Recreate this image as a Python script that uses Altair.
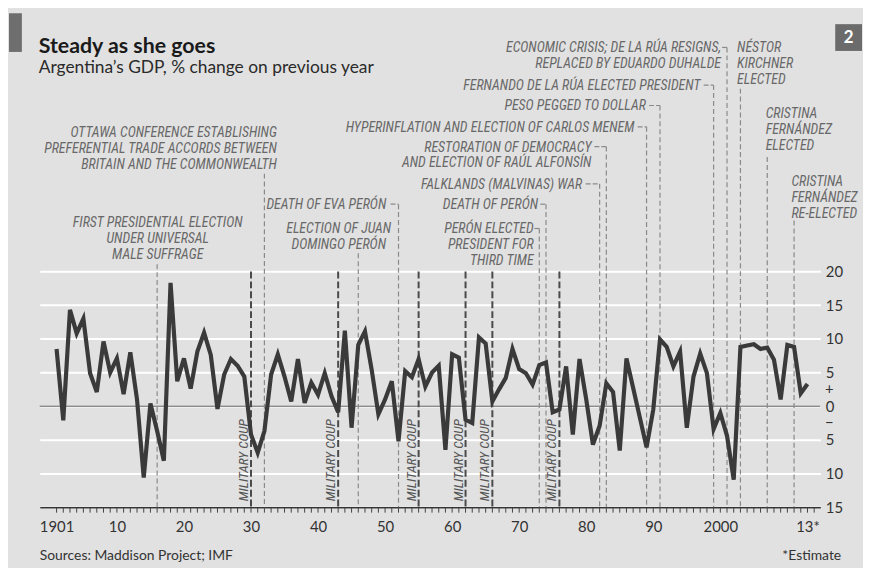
import altair as alt
import pandas as pd

# ---------------- data ----------------
years = list(range(1901, 2014))
gdp_change = [
    8.5, -2.1, 14.3, 10.8, 13.0, 4.9, 2.1, 9.6, 5.0, 7.1,      # 1901-1910
    1.8, 8.0, 1.0, -10.6, 0.4, -3.7, -8.1, 18.3, 3.7, 7.1,     # 1911-1920
    2.6, 8.1, 10.9, 7.6, -0.4, 4.7, 7.0, 6.0, 4.4, -4.2,       # 1921-1930
    -6.9, -3.7, 4.7, 7.7, 4.4, 0.7, 7.0, 0.5, 3.5, 1.7,        # 1931-1940
    4.9, 1.5, -0.9, 11.2, -3.2, 9.1, 11.1, 5.4, -1.2, 1.0,     # 1941-1950
    3.7, -5.2, 5.2, 4.3, 7.0, 2.9, 5.0, 6.0, -6.5, 7.7,        # 1951-1960
    7.2, -2.0, -2.5, 10.2, 9.3, 0.7, 2.5, 4.2, 8.5, 5.5,       # 1961-1970
    4.9, 3.2, 6.1, 6.5, -0.9, -0.5, 5.9, -4.2, 7.0, 1.0,       # 1971-1980
    -5.7, -2.9, 3.4, 2.1, -6.6, 7.1, 2.7, -1.7, -6.1, -0.5,    # 1981-1990
    9.9, 8.8, 5.9, 8.1, -3.2, 4.4, 7.8, 4.9, -3.4, -1.0,       # 1991-2000
    -4.4, -10.9, 8.8, 9.0, 9.2, 8.5, 8.7, 6.9, 1.0, 9.1,       # 2001-2010
    8.8, 1.9, 3.3,                                             # 2011-2013
]

tick_years = list(range(1901, 2015))
y_ticks = [-15, -10, -5, 0, 5, 10, 15, 20]

coup_years = [1930, 1943, 1955, 1962, 1966, 1976]
coup_text = "MILITARY COUP"

event_years = [1916, 1932, 1946, 1952, 1973, 1974, 1982, 1983,
               1989, 1991, 1999, 2001, 2003, 2007, 2011]
event_labels = [
    "FIRST PRESIDENTIAL ELECTION\nUNDER UNIVERSAL\nMALE SUFFRAGE",
    "OTTAWA CONFERENCE ESTABLISHING\nPREFERENTIAL TRADE ACCORDS BETWEEN\nBRITAIN AND THE COMMONWEALTH",
    "ELECTION OF JUAN\nDOMINGO PERÓN",
    "DEATH OF EVA PERÓN",
    "PERÓN ELECTED\nPRESIDENT FOR\nTHIRD TIME",
    "DEATH OF PERÓN",
    "FALKLANDS (MALVINAS) WAR",
    "RESTORATION OF DEMOCRACY\nAND ELECTION OF RAÚL ALFONSÍN",
    "HYPERINFLATION AND ELECTION OF CARLOS MENEM",
    "PESO PEGGED TO DOLLAR",
    "FERNANDO DE LA RÚA ELECTED PRESIDENT",
    "ECONOMIC CRISIS; DE LA RÚA RESIGNS,\nREPLACED BY EDUARDO DUHALDE",
    "NÉSTOR\nKIRCHNER\nELECTED",
    "CRISTINA\nFERNÁNDEZ\nELECTED",
    "CRISTINA\nFERNÁNDEZ\nRE-ELECTED",
]

title_text = "Steady as she goes"
subtitle_text = "Argentina’s GDP, % change on previous year"
source_text = "Sources: Maddison Project; IMF"
note_text = "*Estimate"
chart_number = "2"

# ---------------- layout (annotation placement) ----------------
PLOT_W, PLOT_H = 787, 469
X0, X1 = 1898.49, 2014.92
Y0, Y1 = -15.0, 54.07
PPY = PLOT_W / (X1 - X0)
PPU = PLOT_H / (Y1 - Y0)
TOP = 40  # page y of the plot's top edge


def ydata(page_y):
    return Y1 - (page_y - TOP) / PPU


def xdata(year, dx):
    return year + dx / PPY


# align, label dx (px), first baseline (page y), line top (page y), connector start (px, None)
event_layout = [
    ("center", 0.6, 227, 264, None),
    ("right", 12.6, 136, 172.7, None),
    ("center", -19.7, 232.5, 253, None),
    ("right", -12.3, 208.5, 203.5, -8),
    ("right", -5.7, 233, 228, -5),
    ("right", -8.0, 208.5, 203.5, -5.7),
    ("right", -17.6, 188, 183, -14),
    ("right", -15.0, 150.5, 145.5, -12),
    ("right", -12.3, 130.5, 125.5, -9),
    ("right", -14.3, 109, 104, -11),
    ("right", -13.3, 88.5, 83.5, -10),
    ("right", -6.0, 50.5, 45.5, -5),
    ("left", -3.4, 50.5, 87, None),
    ("left", -1.6, 117, 156, None),
    ("left", -2.7, 185, 220, None),
]

rows = []
for yr, lab, (al, dx, base, top, conn) in zip(event_years, event_labels, event_layout):
    rows.append({
        "year": yr, "label": lab, "align": al,
        "lx": xdata(yr, dx), "ly": ydata(base),
        "top": ydata(top), "bottom": Y0,
        "cx": xdata(yr, conn) if conn is not None else None,
    })
events = pd.DataFrame(rows)
gdp = pd.DataFrame({"year": years, "gdp": gdp_change})
coups = pd.DataFrame({"year": coup_years, "label": coup_text, "top": 20.0, "bottom": Y0})
ticks_df = pd.DataFrame({"year": tick_years})

BG = "#e1e1e1"
ANN_FONT = "Noto Sans Condensed, Liberation Sans Narrow, Roboto Condensed, Arial Narrow, Roboto"
MAIN_FONT = "Lato"
ANN_COLOR = "#686868"

xs = alt.Scale(domain=[X0, X1], nice=False, zero=False)
ys = alt.Scale(domain=[Y0, Y1], nice=False, zero=False)

label_expr = ("datum.value == 1901 ? '1901' : datum.value == 2000 ? '2000' : "
              "datum.value == 2013 ? '13*' : "
              "(datum.value < 2000 && datum.value % 10 == 0) ? "
              "substring(toString(datum.value), 2, 4) : ''")

x_axis = alt.Axis(values=tick_years, labelExpr=label_expr, title=None,
                  grid=False, ticks=False,
                  domainColor="#333333", domainWidth=1.5, labelFont=MAIN_FONT,
                  labelFontSize=15, labelColor="#333333", labelPadding=13,
                  labelOverlap=False, labelFlush=False, labelBound=False)
y_axis = alt.Axis(values=y_ticks, orient="right",
                  labelExpr="'' + abs(datum.value)", title=None, grid=True,
                  gridColor="white", gridWidth=2, domain=False, ticks=False,
                  labelPadding=5, labelFont=MAIN_FONT, labelFontSize=15,
                  labelColor="#333333", labelOverlap=False)


def X(field):
    return alt.X(field, scale=xs, axis=x_axis)


def Y(field):
    return alt.Y(field, scale=ys, axis=y_axis)


zero_rule = alt.Chart(pd.DataFrame({"v": [0]})).mark_rule(
    color="#8c8c8c", strokeWidth=1.5).encode(y=Y("v:Q"))

year_ticks = alt.Chart(ticks_df).mark_rule(color="#444444", strokeWidth=1).encode(
    x=X("year:Q"), y=alt.value(PLOT_H + 0.75), y2=alt.value(PLOT_H + 5.5))

event_lines = alt.Chart(events).mark_rule(
    color="#8a8a8a", strokeWidth=1.2, strokeDash=[5, 3]).encode(
    x=X("year:Q"), y=Y("top:Q"), y2="bottom:Q")

connectors = alt.Chart(events).transform_filter("isValid(datum.cx)").mark_rule(
    color="#8a8a8a", strokeWidth=1.2, strokeDash=[5, 2]).encode(
    x=X("cx:Q"), x2="year:Q", y=Y("top:Q"))

coup_lines = alt.Chart(coups).mark_rule(
    color="#4a4a4a", strokeWidth=2, strokeDash=[7, 3]).encode(
    x=X("year:Q"), y=Y("top:Q"), y2="bottom:Q")

coup_labels = alt.Chart(coups).mark_text(
    angle=270, align="left", baseline="bottom", dx=6, font=ANN_FONT,
    fontStyle="italic", fontSize=13.5, color="#555555").encode(
    x=X("year:Q"), y=Y("bottom:Q"), text="label:N")


def ann_layer(al):
    return alt.Chart(events).transform_filter(f"datum.align == '{al}'").mark_text(
        align=al, baseline="alphabetic", lineBreak="\n", lineHeight=16,
        font=ANN_FONT, fontStyle="italic", fontSize=14, color=ANN_COLOR).encode(
        x=X("lx:Q"), y=Y("ly:Q"), text="label:N")


gdp_line = alt.Chart(gdp).mark_line(color="#3a3a3a", strokeWidth=4.2).encode(
    x=X("year:Q"), y=Y("gdp:Q"))

sign_df = pd.DataFrame({"v": [2.5, -2.5], "s": ["+", "−"]})
signs = alt.Chart(sign_df).mark_text(
    font=MAIN_FONT, fontSize=15, color="#333333", align="center", baseline="middle").encode(
    x=alt.value(PLOT_W + 9), y=Y("v:Q"), text="s:N")

one = pd.DataFrame({"k": [0]})
accent = alt.Chart(one).mark_rect(color="#6e6e6e").encode(
    x=alt.value(-31), x2=alt.value(-18), y=alt.value(-29), y2=alt.value(10))
title = alt.Chart(one).mark_text(
    text=title_text, font=MAIN_FONT, fontWeight="bold", fontSize=21.5, color="#1a1a1a",
    align="left", baseline="alphabetic").encode(x=alt.value(-1), y=alt.value(11))
subtitle = alt.Chart(one).mark_text(
    text=subtitle_text, font=MAIN_FONT, fontSize=17.5, color="#2a2a2a",
    align="left", baseline="alphabetic").encode(x=alt.value(-1), y=alt.value(31))
source = alt.Chart(one).mark_text(
    text=source_text, font=MAIN_FONT, fontSize=14, color="#333333",
    align="left", baseline="alphabetic").encode(x=alt.value(0), y=alt.value(522))
note = alt.Chart(one).mark_text(
    text=note_text, font=MAIN_FONT, fontSize=14, color="#333333",
    align="right", baseline="alphabetic").encode(x=alt.value(808), y=alt.value(522))
num_box = alt.Chart(one).mark_rect(color="#6b6b6b").encode(
    x=alt.value(802), x2=alt.value(829), y=alt.value(-18), y2=alt.value(9))
num_text = alt.Chart(one).mark_text(
    text=chart_number, font=MAIN_FONT, fontWeight="bold", fontSize=17, color="white",
    align="center", baseline="middle").encode(x=alt.value(815.5), y=alt.value(-4))

chart = alt.layer(
    zero_rule, year_ticks, event_lines, connectors, coup_lines, coup_labels,
    ann_layer("right"), ann_layer("center"), ann_layer("left"),
    gdp_line, signs, accent, title, subtitle, source, note, num_box, num_text,
).properties(
    width=PLOT_W, height=PLOT_H,
    autosize=alt.AutoSizeParams(type="none"),
    padding={"left": 32, "top": 32, "right": 43, "bottom": 59},
    background=BG,
).configure_view(stroke=None).configure_axis(labelOverlap=False)

chart.save("out.html", embed_options={"renderer": "svg", "actions": False})
